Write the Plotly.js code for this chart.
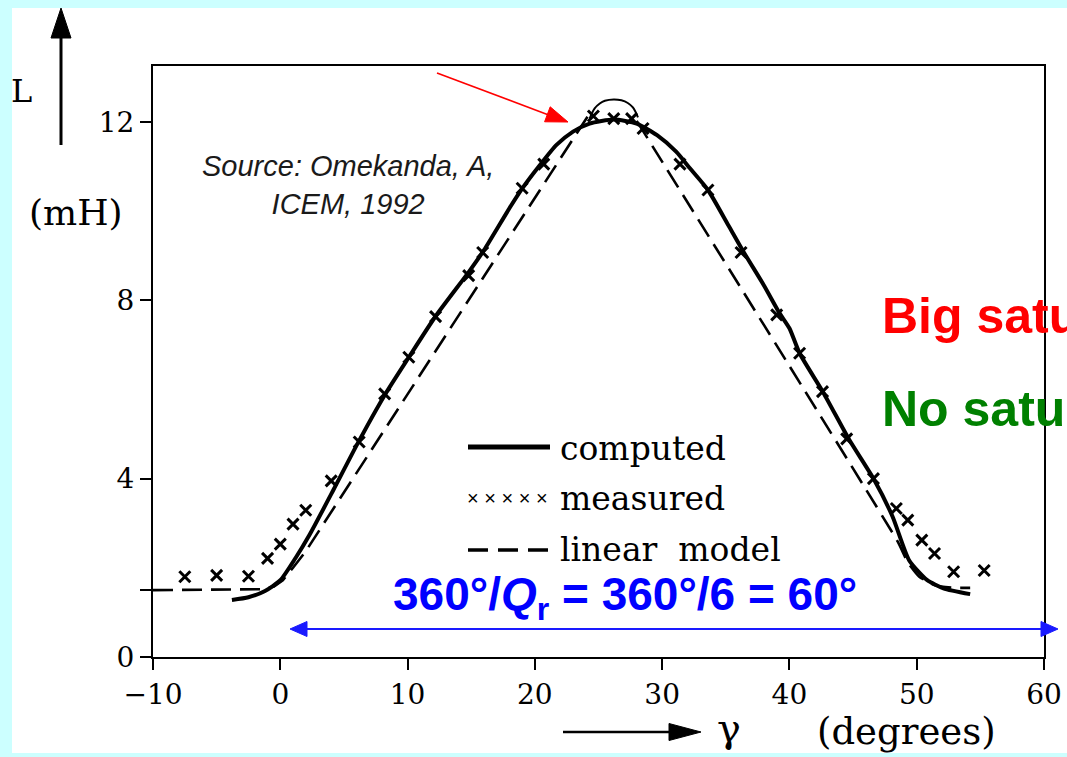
<!DOCTYPE html>
<html><head><meta charset="utf-8">
<script src="https://cdn.plot.ly/plotly-3.0.1.min.js"></script>
<style>html,body{margin:0;padding:0;background:#ccffff;overflow:hidden}#chart{width:1067px;height:757px}</style>
</head><body><div id="chart"></div>
<script>
// ---- data ----
const computedX = [-3.8, -2.5, -1.2, 0.0, 1.2, 2.3, 4.2, 6.1, 8.2, 10.1, 12.2, 14.8, 16.0, 18.0, 19.0, 20.4, 21.7, 23.0, 24.3, 26.2, 28.0, 29.6, 31.1, 32.2, 33.6, 35.2, 36.4, 38.0, 39.2, 40.0, 40.8, 42.7, 44.7, 46.6, 48.1, 49.4, 50.8, 52.1, 54.2];
const computedY = [1.28, 1.34, 1.48, 1.72, 2.22, 2.74, 3.76, 4.8, 5.87, 6.72, 7.64, 8.63, 9.12, 10.06, 10.5, 11.03, 11.48, 11.78, 11.96, 12.05, 11.96, 11.7, 11.33, 10.95, 10.47, 9.68, 9.08, 8.33, 7.72, 7.37, 6.81, 5.91, 4.87, 4.0, 3.15, 2.17, 1.73, 1.54, 1.41];

const measuredX = [-7.5, -5.0, -2.5, -1.0, 0.0, 1.0, 2.0, 4.0, 6.2, 8.2, 10.1, 12.2, 14.8, 15.9, 19.0, 20.7, 24.6, 26.2, 27.6, 28.5, 31.4, 33.6, 36.2, 39.0, 40.8, 42.6, 44.5, 46.6, 48.4, 49.3, 50.4, 51.4, 52.9, 55.3];
const measuredY = [1.80, 1.83, 1.81, 2.21, 2.53, 2.98, 3.29, 3.95, 4.82, 5.90, 6.72, 7.63, 8.55, 9.07, 10.51, 11.05, 12.13, 12.07, 12.07, 11.85, 11.05, 10.47, 9.07, 7.67, 6.81, 5.95, 4.89, 4.0, 3.33, 3.07, 2.62, 2.32, 1.91, 1.94];

const linearRiseX = [-10, -1.5, -0.5, 0.2, 1.0, 2.0, 24.4];
const linearRiseY = [1.5, 1.52, 1.58, 1.72, 2.0, 2.37, 12.23];
const linearCapX = [24.3, 24.7, 25.1, 25.5, 26.2, 26.8, 27.3, 27.7, 28.1];
const linearCapY = [12.07, 12.3, 12.41, 12.47, 12.5, 12.48, 12.42, 12.32, 12.1];
const linearFallX = [28.0, 48.5, 49.3, 50.2, 51.5, 53.0, 54.2];
const linearFallY = [12.02, 2.59, 2.12, 1.8, 1.6, 1.55, 1.55];

const xTickVals = [-10, 0, 10, 20, 30, 40, 50, 60];
const yTickVals = [0, 1.5, 4, 8, 12];
const yTickText = ['0', ' ', '4', '8', '12'];
const legendLabels = ['computed', 'measured', 'linear\u00a0\u00a0model'];

// ---- layout geometry ----
const W = 1067, H = 757, ML = 153, MR = 23, MT = 66, MB = 100;
const PW = W - ML - MR, PH = H - MT - MB;
const px = v => (v - ML) / PW;
const py = v => (H - MB - v) / PH;
const SERIF = 'DejaVu Serif', SANS = 'Liberation Sans, Arial, sans-serif';

function seg(x0, y0, x1, y1, color, width, dash) {
  return {type: 'line', xref: 'paper', yref: 'paper', x0: px(x0), y0: py(y0), x1: px(x1), y1: py(y1),
    line: {color: color, width: width, dash: dash || 'solid'}};
}
function tri(pts, color) {
  const d = pts.map((p, i) => (i ? 'L' : 'M') + px(p[0]) + ',' + py(p[1])).join(' ') + ' Z';
  return {type: 'path', xref: 'paper', yref: 'paper', path: d, fillcolor: color, line: {color: color, width: 1}};
}
function arrowHead(tip, from, len, half, color) {
  const dx = tip[0] - from[0], dy = tip[1] - from[1], n = Math.hypot(dx, dy);
  const ux = dx / n, uy = dy / n, bx = tip[0] - ux * len, by = tip[1] - uy * len;
  return tri([tip, [bx - uy * half, by + ux * half], [bx + uy * half, by - ux * half]], color);
}
function txt(text, x, y, size, family, color, xa, ya, extra) {
  return Object.assign({text: text, xref: 'paper', yref: 'paper', x: px(x), y: py(y), showarrow: false,
    xanchor: xa || 'center', yanchor: ya || 'middle', font: {family: family, size: size, color: color}}, extra || {});
}

const redTip = [568, 122], redFrom = [437, 73];
const shapes = [
  {type: 'rect', xref: 'paper', yref: 'paper', x0: px(12), x1: px(1075), y0: py(753), y1: py(8),
    fillcolor: '#ffffff', line: {width: 0}, layer: 'below'},
  // L arrow
  seg(61, 145, 61, 36, '#000', 3), tri([[61, 8], [51, 38], [71, 38]], '#000'),
  // gamma arrow
  seg(563, 732, 672, 732, '#000', 2.5), tri([[701, 732], [669, 723.5], [669, 740.5]], '#000'),
  // red arrow
  seg(redFrom[0], redFrom[1], 550, 115.5, '#ff0000', 1.6), arrowHead(redTip, redFrom, 22, 8, '#ff0000'),
  // blue double arrow
  seg(300, 629, 1048, 629, '#1a1aff', 2.2),
  tri([[290, 629], [307, 621.5], [307, 636.5]], '#1a1aff'),
  tri([[1058, 629], [1041, 621.5], [1041, 636.5]], '#1a1aff'),
  // legend samples
  seg(468, 447, 550, 447, '#000', 5),
  seg(468, 550, 552, 550, '#000', 3.5, '20px,10px')
];

const annotations = [
  txt('L', 21, 91, 32, SERIF, '#000'),
  txt('(mH)', 76, 212, 36, SERIF, '#000'),
  txt('<i>Source: Omekanda, A,</i><br><i>ICEM, 1992</i>', 348, 185, 29, SANS, '#1a1a1a', 'center', 'middle', {align: 'center'}),
  txt(legendLabels[0], 558, 448, 33, SERIF, '#000', 'left'),
  txt('\u00d7 \u00d7 \u00d7 \u00d7 \u00d7', 465, 498, 20, SANS, '#000', 'left'),
  txt(legendLabels[1], 558, 498, 33, SERIF, '#000', 'left'),
  txt(legendLabels[2], 558, 549, 33, SERIF, '#000', 'left'),
  txt('<b>360°/<i>Q</i><sub>r</sub> = 360°/6 = 60°</b>', 625, 597, 46, SANS, '#0000ff'),
  txt('<b>Big saturation</b>', 880, 316, 50, SANS, '#ff0000', 'left'),
  txt('<b>No saturation</b>', 880, 409, 50, SANS, '#008000', 'left'),
  txt('\u03b3', 729, 728, 40, SERIF, '#000'),
  txt('(degrees)', 906, 731, 37, SERIF, '#000')
];

const traces = [
  {x: linearRiseX, y: linearRiseY, mode: 'lines', line: {color: '#000', width: 2.6, dash: '20px,9px'}, showlegend: false, name: 'linear model'},
  {x: linearCapX, y: linearCapY, mode: 'lines', line: {color: '#000', width: 2, shape: 'spline'}, showlegend: false, name: 'linear model'},
  {x: linearFallX, y: linearFallY, mode: 'lines', line: {color: '#000', width: 2.6, dash: '20px,9px', shape: 'spline', smoothing: 0.4}, showlegend: false, name: 'linear model'},
  {x: computedX, y: computedY, mode: 'lines', line: {color: '#000', width: 4, shape: 'spline', smoothing: 0.6}, showlegend: false, name: 'computed'},
  {x: measuredX, y: measuredY, mode: 'markers', marker: {symbol: 'x-thin', size: 11, color: '#000', line: {color: '#000', width: 3}}, showlegend: false, name: 'measured', cliponaxis: false}
];

const axisCommon = {showline: true, linewidth: 2, linecolor: '#000', mirror: true, ticks: 'outside', ticklen: 11,
  tickwidth: 2, tickcolor: '#000', showgrid: false, zeroline: false,
  tickfont: {family: SERIF, size: 28, color: '#000'}};

const layout = {
  width: W, height: H, margin: {l: ML, r: MR, t: MT, b: MB, pad: 0},
  paper_bgcolor: '#ccffff', plot_bgcolor: '#ffffff', showlegend: false,
  xaxis: Object.assign({}, axisCommon, {range: [-10, 60], tickvals: xTickVals}),
  yaxis: Object.assign({}, axisCommon, {range: [0, 13.25], tickvals: yTickVals, ticktext: yTickText}),
  shapes: shapes, annotations: annotations
};

Plotly.newPlot('chart', traces, layout, {staticPlot: true, displayModeBar: false});
</script></body></html>
